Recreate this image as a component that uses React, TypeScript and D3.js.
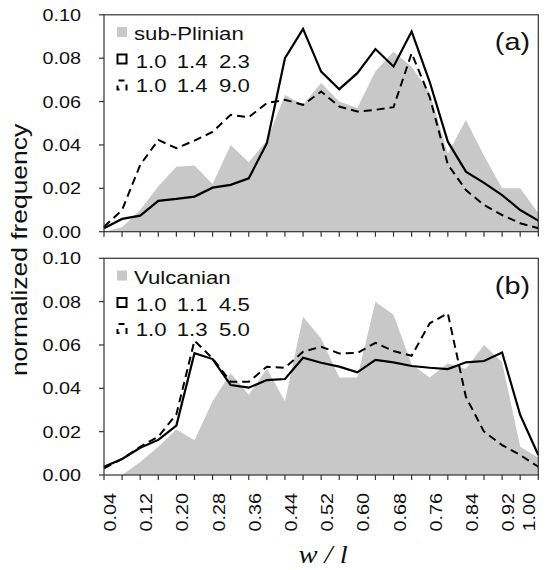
import React from "react";
import * as d3 from "d3";

// ---------- data ----------
const categories = [
  0.04, 0.08, 0.12, 0.16, 0.2, 0.24, 0.28, 0.32, 0.36, 0.4, 0.44, 0.48, 0.52,
  0.56, 0.6, 0.64, 0.68, 0.72, 0.76, 0.8, 0.84, 0.88, 0.92, 0.96, 1.0,
];
const tickLabels = [
  "0.04", "0.12", "0.20", "0.28", "0.36", "0.44", "0.52", "0.60", "0.68",
  "0.76", "0.84", "0.92", "1.00",
];
const yTicks = [0, 0.02, 0.04, 0.06, 0.08, 0.1];

const subPlinianArea = [
  0.0, 0.002, 0.01, 0.021, 0.03, 0.0305, 0.022, 0.04, 0.032, 0.042, 0.063,
  0.0585, 0.0685, 0.06, 0.057, 0.074, 0.083, 0.076, 0.064, 0.036, 0.0515,
  0.035, 0.02, 0.02, 0.0086,
];
const subPlinianSolid = [
  0.0016, 0.0059, 0.0074, 0.0142, 0.0151, 0.0162, 0.0203, 0.0216, 0.0246,
  0.0408, 0.08, 0.0935, 0.0738, 0.0657, 0.0731, 0.0842, 0.0762, 0.0923, 0.069,
  0.0415, 0.0277, 0.0225, 0.0169, 0.01, 0.0051,
];
const subPlinianDashed = [
  0.0023, 0.01, 0.0308, 0.0423, 0.0385, 0.042, 0.046, 0.0539, 0.0528, 0.0593,
  0.0608, 0.0585, 0.0646, 0.0577, 0.0554, 0.0562, 0.0574, 0.0823, 0.062, 0.031,
  0.0192, 0.0123, 0.0077, 0.0039, 0.0016,
];

const vulcanianArea = [
  0.0, 0.0, 0.006, 0.013, 0.021, 0.016, 0.034, 0.047, 0.037, 0.049, 0.034,
  0.073, 0.063, 0.045, 0.045, 0.08, 0.074, 0.051, 0.045, 0.0515, 0.049, 0.06,
  0.052, 0.013, 0.008,
];
const vulcanianSolid = [
  0.0038, 0.0074, 0.0126, 0.0162, 0.0228, 0.0562, 0.0535, 0.0415, 0.0403,
  0.0438, 0.0443, 0.0541, 0.0518, 0.05, 0.0474, 0.0531, 0.052, 0.0503, 0.0495,
  0.0489, 0.052, 0.0526, 0.0565, 0.0277, 0.0092,
];
const vulcanianDashed = [
  0.0031, 0.0074, 0.013, 0.0177, 0.028, 0.062, 0.0538, 0.043, 0.043, 0.05,
  0.0495, 0.0569, 0.0592, 0.0561, 0.0563, 0.061, 0.0572, 0.055, 0.07, 0.0746,
  0.036, 0.02, 0.0138, 0.0092, 0.0038,
];

const panels = [
  {
    name: "sub-Plinian",
    tag: "(a)",
    area: subPlinianArea,
    solid: subPlinianSolid,
    dashed: subPlinianDashed,
    solidLabel: ["1.0", "1.4", "2.3"],
    dashedLabel: ["1.0", "1.4", "9.0"],
  },
  {
    name: "Vulcanian",
    tag: "(b)",
    area: vulcanianArea,
    solid: vulcanianSolid,
    dashed: vulcanianDashed,
    solidLabel: ["1.0", "1.1", "4.5"],
    dashedLabel: ["1.0", "1.3", "5.0"],
  },
];

// ---------- layout ----------
const W = 547;
const H = 570;
const X0 = 104;
const X1 = 538.3;
const panelBox = [
  { top: 14.8, bottom: 231.7 },
  { top: 258.3, bottom: 475 },
];
const SANS = "'Liberation Sans', Arial, Helvetica, sans-serif";
const SERIF = "'Liberation Serif', 'Times New Roman', serif";
const SX = 1.2;
const GRAY = "#c8c8c8";

function SText({ x, y, r = 0, sx = SX, size, anchor = "start", family = SANS, italic = false, children }: any) {
  return (
    <text
      transform={`translate(${x},${y}) rotate(${r}) scale(${sx},1)`}
      fontFamily={family}
      fontSize={size}
      fontStyle={italic ? "italic" : "normal"}
      textAnchor={anchor}
      fill="#111"
    >
      {children}
    </text>
  );
}

const x = d3.scaleLinear().domain([0.04, 1.0]).range([X0, X1]);

function Panel({ p, box }: any) {
  const y = d3.scaleLinear().domain([0, 0.1]).range([box.bottom, box.top]);
  const area = d3
    .area<number>()
    .x((_, i) => x(categories[i]))
    .y0(y(0))
    .y1((d) => y(d));
  const line = d3
    .line<number>()
    .x((_, i) => x(categories[i]))
    .y((d) => y(d));
  const dy = box.top - panelBox[0].top;
  const cols = [135.7, 176.7, 219];
  return (
    <g>
      <path d={area(p.area) || ""} fill={GRAY} />
      <path d={line(p.dashed) || ""} fill="none" stroke="#000" strokeWidth={2} strokeDasharray="8 5" />
      <path d={line(p.solid) || ""} fill="none" stroke="#000" strokeWidth={2.2} strokeLinejoin="miter" />
      <rect x={X0} y={box.top} width={X1 - X0} height={box.bottom - box.top} fill="none" stroke="#333" strokeWidth={1.2} />
      {yTicks.map((t) => (
        <g key={t}>
          <line x1={X0 - 5} x2={X0} y1={y(t)} y2={y(t)} stroke="#333" strokeWidth={1.2} />
          <SText x={81} y={y(t) + 6} size={16.5} anchor="end">
            {t.toFixed(2)}
          </SText>
        </g>
      ))}
      {categories.map((c) => (
        <line key={c} x1={x(c)} x2={x(c)} y1={box.bottom} y2={box.bottom + 5} stroke="#333" strokeWidth={1.2} />
      ))}
      {/* legend */}
      <rect x={117} y={27 + dy} width={10} height={10} fill={GRAY} />
      <SText x={134} y={40 + dy} size={18.5}>{p.name}</SText>
      <rect x={117.5} y={54.5 + dy} width={9} height={9} fill="none" stroke="#000" strokeWidth={2} />
      {p.solidLabel.map((s: string, i: number) => (
        <SText key={"s" + i} x={cols[i]} y={67.7 + dy} size={18.5}>{s}</SText>
      ))}
      <rect x={117.5} y={80.5 + dy} width={9} height={9} fill="none" stroke="#000" strokeWidth={2} strokeDasharray="6 6" strokeDashoffset={-1} />
      {p.dashedLabel.map((s: string, i: number) => (
        <SText key={"d" + i} x={cols[i]} y={92.3 + dy} size={18.5}>{s}</SText>
      ))}
      <SText x={530} y={50 + dy} size={24} anchor="end">{p.tag}</SText>
    </g>
  );
}

export default function App() {
  return (
    <svg width={W} height={H} style={{ position: "absolute", left: 0, top: 0, background: "#fff" }}>
      <rect x={0} y={0} width={W} height={H} fill="#fff" />
      {panels.map((p, i) => (
        <Panel key={i} p={p} box={panelBox[i]} />
      ))}
      {tickLabels.map((t) => {
        const tx = Math.min(x(+t) + 12, 535);
        return (
          <SText key={t} x={tx} y={493} r={-90} size={16.5} anchor="end">
            {t}
          </SText>
        );
      })}
      <SText x={27} y={250} r={-90} size={22} anchor="middle">normalized frequency</SText>
      <SText x={323} y={563} size={26} sx={1.1} anchor="middle" family={SERIF} italic>
        w / l
      </SText>
    </svg>
  );
}
